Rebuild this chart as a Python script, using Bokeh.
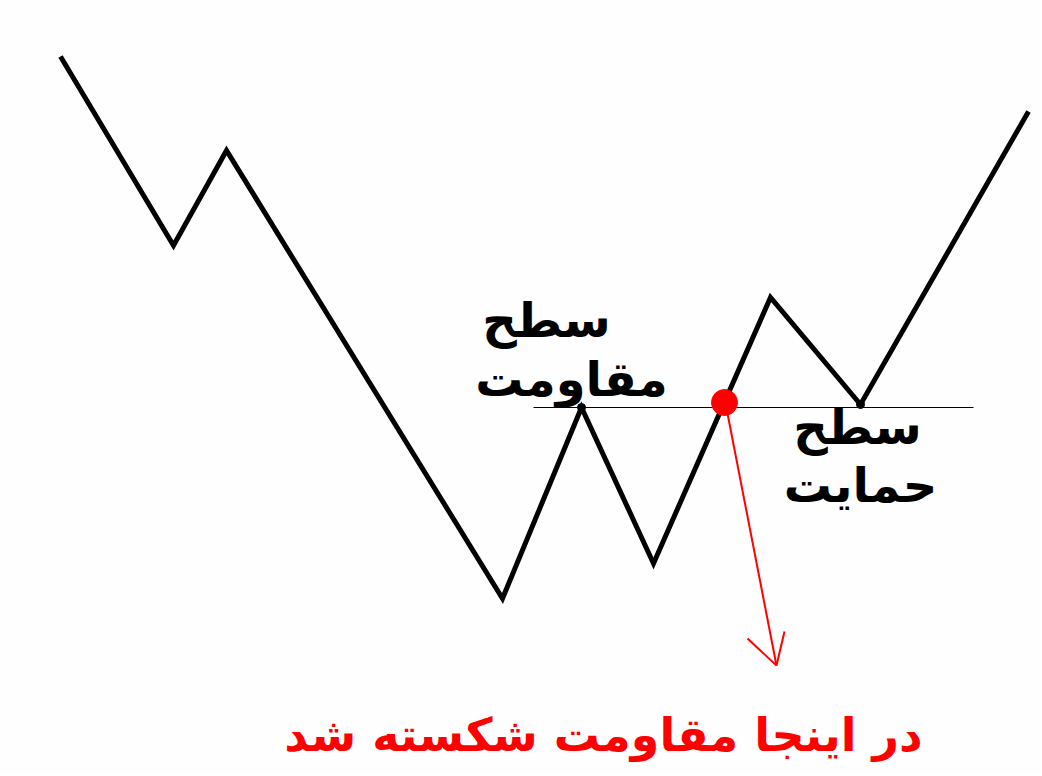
from bokeh.plotting import figure
from bokeh.models import Range1d, ColumnDataSource
from bokeh.core.properties import value
from bokeh.embed import file_html
from bokeh.resources import INLINE

# Zigzag price path (time, price) - screen-like units, price axis inverted
path_t = [60, 173, 226, 502, 581, 653, 770, 860, 1028]
path_p = [56, 245, 150, 598, 407, 563, 297, 404, 111]

# Resistance level line
level_t = [533, 973]
level_p = [407, 407]

# Pivot markers (resistance peak, support trough)
pivot_t = [581, 860]
pivot_p = [407, 404]

# Breakout point
break_t = [724]
break_p = [402]

# Arrow from breakout down to caption
arrow_x0 = [727, 747, 784]
arrow_y0 = [413, 638, 631]
arrow_x1 = [776, 776, 776]
arrow_y1 = [665, 665, 665]

# Labels
label_text = ["سطح", "مقاومت", "سطح", "حمایت"]
label_t = [546, 571, 857, 860]
label_p = [319, 378, 426, 484]

caption_text = ["در اینجا مقاومت شکسته شد"]
caption_t = [603]
caption_p = [734]

W, H = 1040, 774
p = figure(width=W, height=H, output_backend="svg", toolbar_location=None,
           x_range=Range1d(0, W), y_range=Range1d(H, 0),
           min_border=0, background_fill_color="#fefefe", border_fill_color="#fefefe",
           outline_line_color=None)
p.axis.visible = False
p.grid.visible = False

p.line(path_t, path_p, line_color="black", line_width=5, line_join="miter")
p.line(level_t, level_p, line_color="black", line_width=1)
p.scatter(pivot_t, pivot_p, size=8, color="black")
p.scatter(break_t, break_p, size=26, color="#ff0000")
p.segment(arrow_x0, arrow_y0, arrow_x1, arrow_y1, line_color="#ff0000", line_width=2)

src = ColumnDataSource(dict(x=label_t, y=label_p, t=label_text))
p.text("x", "y", text="t", source=src, text_font=value("DejaVu Sans"),
       text_font_size="48px", text_font_style="bold", text_color="black",
       text_align="center", text_baseline="alphabetic")

src2 = ColumnDataSource(dict(x=caption_t, y=caption_p, t=caption_text))
p.text("x", "y", text="t", source=src2, text_font=value("DejaVu Sans"),
       text_font_size="46px", text_font_style="bold", text_color="#ff0000",
       text_align="center", text_baseline="alphabetic")

open("out.html", "w").write(file_html(p, INLINE))
